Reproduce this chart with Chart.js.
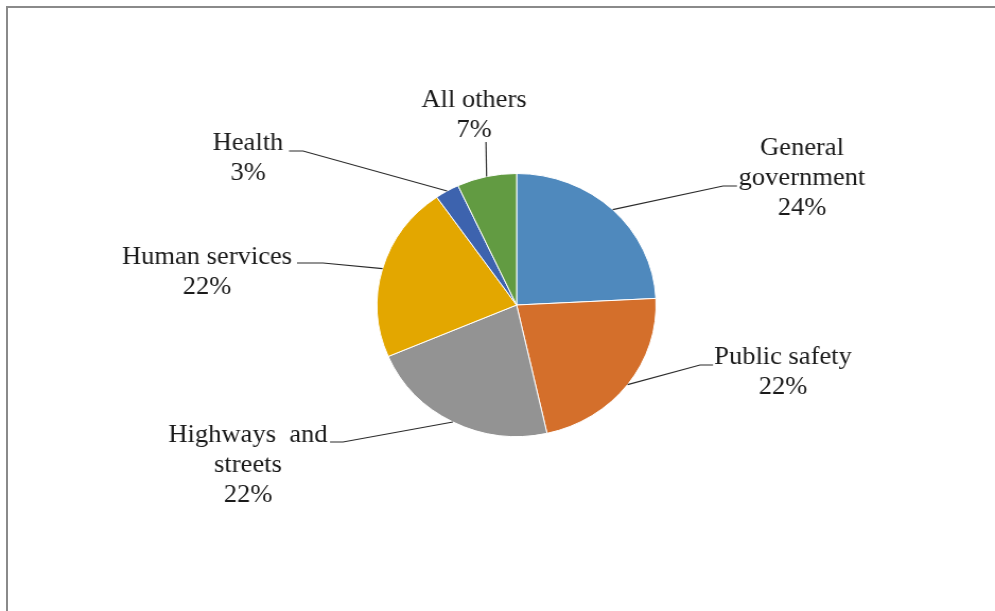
<!DOCTYPE html>
<html>
<head>
<meta charset="utf-8">
<script src="https://cdn.jsdelivr.net/npm/chart.js@4"></script>
<style>
  html, body { margin: 0; padding: 0; background: #fff; }
  #wrap { position: relative; width: 995px; height: 611px; overflow: hidden; }
  #frame { position: absolute; left: 6px; top: 6px; width: 1100px; height: 800px;
           border-left: 2px solid #8a8a8a; border-top: 2px solid #8a8a8a; box-sizing: border-box; }
  #c { position: absolute; left: 0; top: 0; width: 995px !important; height: 611px !important; }
</style>
</head>
<body>
<div id="wrap">
  <div id="frame"></div>
  <canvas id="c" width="938" height="611"></canvas>
</div>
<script>
// ---- data ----
const categories = ["General government", "Public safety", "Highways and streets", "Human services", "Health", "All others"];
const values = [24.2, 22.3, 22.1, 21.7, 2.8, 6.9];
const labelLines = [["General", "government"], ["Public safety"], ["Highways  and", "streets"], ["Human services"], ["Health"], ["All others"]];
const colors = ["#4f89bd", "#d46f2b", "#939393", "#e3a700", "#3d63ae", "#629b42"];

// horizontal stretch of the original picture (canvas is drawn narrower and stretched by CSS)
const SX = 995 / 938;

// label layout in page pixels: text centre of first line, leader start/elbow points
const labelLayout = [
  { tx: 802, ty: 148, p0: [737, 186], p1: [723, 186] },
  { tx: 783, ty: 357, p0: [713, 365], p1: [700, 365] },
  { tx: 248, ty: 435, p0: [330, 442], p1: [343, 442] },
  { tx: 207, ty: 257, p0: [297, 263], p1: [323, 263] },
  { tx: 248, ty: 143, p0: [289, 151], p1: [303, 151] },
  { tx: 474, ty: 100, p0: [486, 142], p1: null }
];

const total = values.reduce((a, b) => a + b, 0);

const leaderLabels = {
  id: 'leaderLabels',
  afterDatasetsDraw(chart) {
    const ctx = chart.ctx;
    const meta = chart.getDatasetMeta(0);
    ctx.save();
    ctx.font = '25px "Liberation Serif", "Times New Roman", serif';
    ctx.fillStyle = '#1a1a1a';
    ctx.textAlign = 'center';
    ctx.textBaseline = 'middle';
    meta.data.forEach((arc, i) => {
      const p = arc.getProps(['x', 'y', 'startAngle', 'endAngle', 'outerRadius'], true);
      const a = (p.startAngle + p.endAngle) / 2;
      const ex = p.x + p.outerRadius * Math.cos(a);
      const ey = p.y + p.outerRadius * Math.sin(a);
      const L = labelLayout[i];
      ctx.strokeStyle = '#2a2a2a';
      ctx.lineWidth = 1.2;
      ctx.beginPath();
      ctx.moveTo(L.p0[0] / SX, L.p0[1]);
      if (L.p1) ctx.lineTo(L.p1[0] / SX, L.p1[1]);
      ctx.lineTo(ex, ey);
      ctx.stroke();
      const lines = labelLines[i].concat([Math.round(values[i] / total * 100) + '%']);
      lines.forEach((t, k) => ctx.fillText(t, L.tx / SX, L.ty + k * 30));
    });
    ctx.restore();
  }
};

new Chart(document.getElementById('c'), {
  type: 'pie',
  data: {
    labels: categories,
    datasets: [{
      data: values,
      backgroundColor: colors,
      borderColor: '#ffffff',
      borderWidth: 1
    }]
  },
  options: {
    responsive: false,
    animation: false,
    devicePixelRatio: 1,
    layout: { padding: { left: 355, right: 319, top: 173, bottom: 174 } },
    plugins: { legend: { display: false }, tooltip: { enabled: false } }
  },
  plugins: [leaderLabels]
});
</script>
</body>
</html>
